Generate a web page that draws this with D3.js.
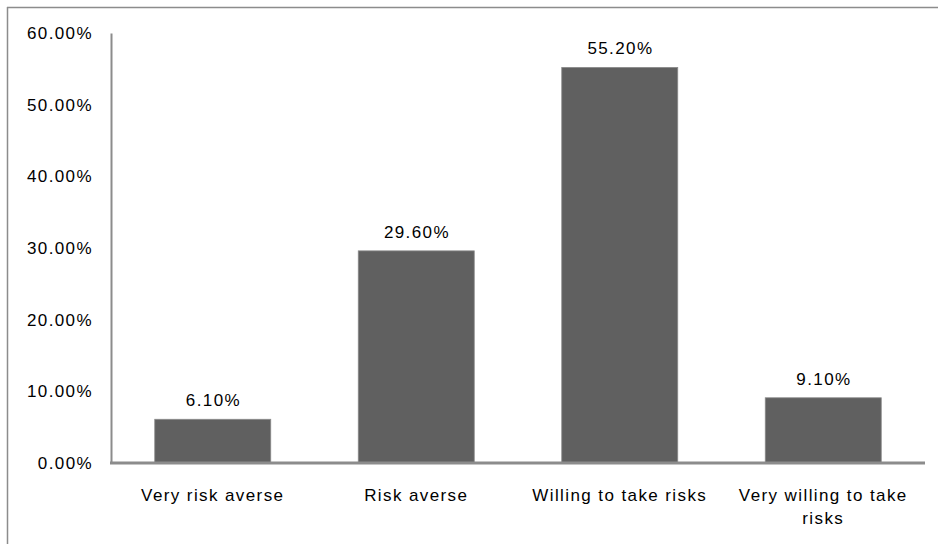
<!DOCTYPE html>
<html>
<head>
<meta charset="utf-8">
<script src="https://cdn.jsdelivr.net/npm/d3@7"></script>
<style>
  html, body { margin: 0; padding: 0; background: #fff; }
  svg { display: block; }
  text { font-family: "Liberation Sans", Arial, sans-serif; fill: #000; }
</style>
</head>
<body>
<svg id="chart" width="938" height="544"></svg>
<script>
// Risk attitude shares (percent)
const categories = ["Very risk averse", "Risk averse", "Willing to take risks", "Very willing to take risks"];
const values = [6.1, 29.6, 55.2, 9.1];
const yTicks = [0, 10, 20, 30, 40, 50, 60];

const svg = d3.select("#chart");
const W = 938, H = 544;
const FONT = "Liberation Sans, Arial, sans-serif";
const FS = 17, LS = 1.4;

// outer frame (top and left edges visible)
svg.append("line").attr("x1", 7).attr("x2", W).attr("y1", 7.5).attr("y2", 7.5)
  .attr("stroke", "#8c8c8c").attr("stroke-width", 1.5);
svg.append("line").attr("x1", 7.5).attr("x2", 7.5).attr("y1", 7).attr("y2", H)
  .attr("stroke", "#8c8c8c").attr("stroke-width", 1.5);

const plot = { left: 111, right: 925, top: 33, bottom: 463 };

const x = d3.scaleBand().domain(categories)
  .range([plot.left, plot.right]).paddingInner(0.43).paddingOuter(0.215);
const y = d3.scaleLinear().domain([0, 60]).range([plot.bottom, plot.top]);

// bars
svg.append("g").selectAll("rect").data(values).join("rect")
  .attr("x", (d, i) => x(categories[i]))
  .attr("width", x.bandwidth())
  .attr("y", d => y(d))
  .attr("height", d => y(0) - y(d))
  .attr("fill", "#606060")
  .attr("stroke", "#8a8a8a")
  .attr("stroke-width", 0.8);

// value labels
svg.append("g").selectAll("text").data(values).join("text")
  .attr("x", (d, i) => x(categories[i]) + x.bandwidth() / 2 + LS / 2)
  .attr("y", d => y(d) - 13)
  .attr("text-anchor", "middle")
  .attr("font-size", FS)
  .attr("letter-spacing", LS)
  .text(d => d.toFixed(2) + "%");

// y axis
const yAxis = d3.axisLeft(y).tickValues(yTicks).tickSize(0).tickPadding(18)
  .tickFormat(d => d.toFixed(2) + "%");
const gy = svg.append("g").attr("transform", `translate(${plot.left},0)`).call(yAxis);
gy.select(".domain").attr("stroke", "#8c8c8c").attr("stroke-width", 2);
gy.selectAll("text").attr("font-size", FS).attr("letter-spacing", LS)
  .attr("font-family", FONT).attr("fill", "#000");

// x axis
const xAxis = d3.axisBottom(x).tickSize(0).tickPadding(26);
const gx = svg.append("g").attr("transform", `translate(0,${plot.bottom})`).call(xAxis);
gx.select(".domain").remove();
svg.append("line").attr("x1", plot.left - 1).attr("x2", plot.right)
  .attr("y1", plot.bottom).attr("y2", plot.bottom)
  .attr("stroke", "#8c8c8c").attr("stroke-width", 3);
gx.selectAll("text").attr("font-size", FS).attr("letter-spacing", LS)
  .attr("font-family", FONT).attr("fill", "#000")
  .each(function(d) {
    const t = d3.select(this);
    if (d === "Very willing to take risks") {
      t.text(null);
      t.append("tspan").attr("x", 0).attr("dy", "0.71em").text("Very willing to take");
      t.append("tspan").attr("x", 0).attr("dy", "1.35em").text("risks");
      t.attr("dy", null);
    }
  });
</script>
</body>
</html>
